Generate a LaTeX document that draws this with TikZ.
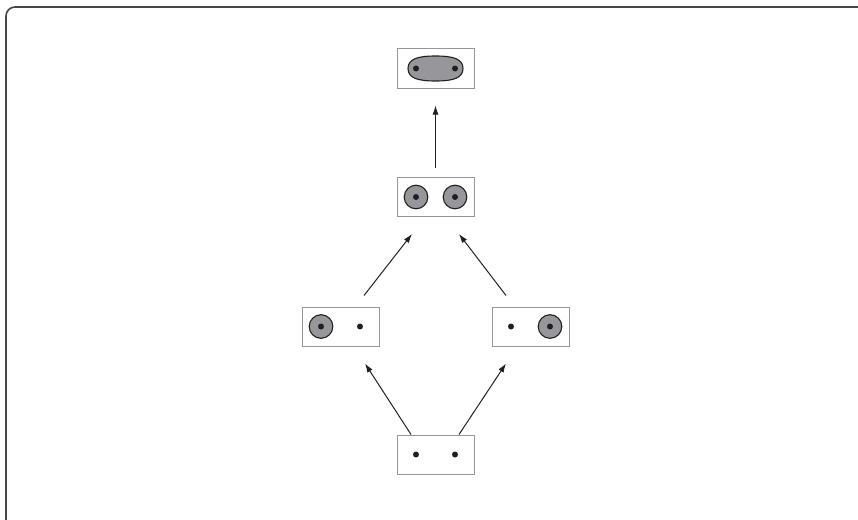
\documentclass[tikz,border=0pt]{standalone}
\usetikzlibrary{calc,arrows.meta}
\definecolor{boxgray}{RGB}{150,150,150}
\definecolor{fillgray}{RGB}{150,150,155}
\definecolor{ink}{RGB}{35,31,32}
\definecolor{framegray}{RGB}{70,70,70}
\tikzset{
  statebox/.style={draw=boxgray, line width=1pt, fill=white, rectangle, minimum width=77pt, minimum height=39pt, inner sep=0pt},
  dotmark/.style={fill=ink, draw=none},
  ring/.style={fill=fillgray, draw=ink, line width=1.1pt},
  link/.style={draw=ink, line width=1pt, -{Latex[length=9pt,width=6pt]}}
}
\begin{document}
\begin{tikzpicture}[x=1pt,y=-1pt]
\useasboundingbox (0,0) rectangle (858,519);
\clip (0,0) rectangle (858,519);
\fill[white] (0,0) rectangle (858,519);
\draw[framegray, line width=1.6pt, rounded corners=9pt] (6,540) -- (6,7) -- (880,7);

\node[statebox] (top) at (435.5,68.5) {};
\node[statebox] (mid) at (435.5,197) {};
\node[statebox] (left) at (340.5,326.5) {};
\node[statebox] (right) at (530.5,326.5) {};
\node[statebox] (bot) at (435.5,454.5) {};

% top: merged
\draw[ring] ($(top.center)+(-27.5,0)$)
  .. controls ($(top.center)+(-27.5,-9.5)$) and ($(top.center)+(-18,-12.5)$) .. ($(top.center)+(0,-12.5)$)
  .. controls ($(top.center)+(18,-12.5)$) and ($(top.center)+(27.5,-9.5)$) .. ($(top.center)+(27.5,0)$)
  .. controls ($(top.center)+(27.5,9.5)$) and ($(top.center)+(18,12.5)$) .. ($(top.center)+(0,12.5)$)
  .. controls ($(top.center)+(-18,12.5)$) and ($(top.center)+(-27.5,9.5)$) .. cycle;
\fill[dotmark] ($(top.center)+(-19.5,0)$) circle [radius=3pt];
\fill[dotmark] ($(top.center)+(19.5,0)$) circle [radius=3pt];

% mid: two rings
\draw[ring] ($(mid.center)+(-19.5,0)$) circle [radius=11.8pt];
\draw[ring] ($(mid.center)+(19.5,0)$) circle [radius=11.8pt];
\fill[dotmark] ($(mid.center)+(-19.5,0)$) circle [radius=3pt];
\fill[dotmark] ($(mid.center)+(19.5,0)$) circle [radius=3pt];

% left
\draw[ring] ($(left.center)+(-19.5,0)$) circle [radius=11.8pt];
\fill[dotmark] ($(left.center)+(-19.5,0)$) circle [radius=3pt];
\fill[dotmark] ($(left.center)+(19.5,0)$) circle [radius=3pt];

% right
\draw[ring] ($(right.center)+(19.5,0)$) circle [radius=11.8pt];
\fill[dotmark] ($(right.center)+(-19.5,0)$) circle [radius=3pt];
\fill[dotmark] ($(right.center)+(19.5,0)$) circle [radius=3pt];

% bottom
\fill[dotmark] ($(bot.center)+(-19.5,0)$) circle [radius=3pt];
\fill[dotmark] ($(bot.center)+(19.5,0)$) circle [radius=3pt];

% arrows
\draw[link] ($(mid.north)+(0,-9)$) -- ($(top.south)+(0,17)$);
\draw[link] ($(left.north)+(23.5,-11)$) -- ($(mid.south)+(-23.5,17)$);
\draw[link] ($(right.north)+(-24.5,-11)$) -- ($(mid.south)+(23.5,17)$);
\draw[link] ($(bot.north)+(-24.5,0)$) -- ($(left.south)+(24.5,17)$);
\draw[link] ($(bot.north)+(23.5,0)$) -- ($(right.south)+(-24.5,17)$);
\end{tikzpicture}
\end{document}
